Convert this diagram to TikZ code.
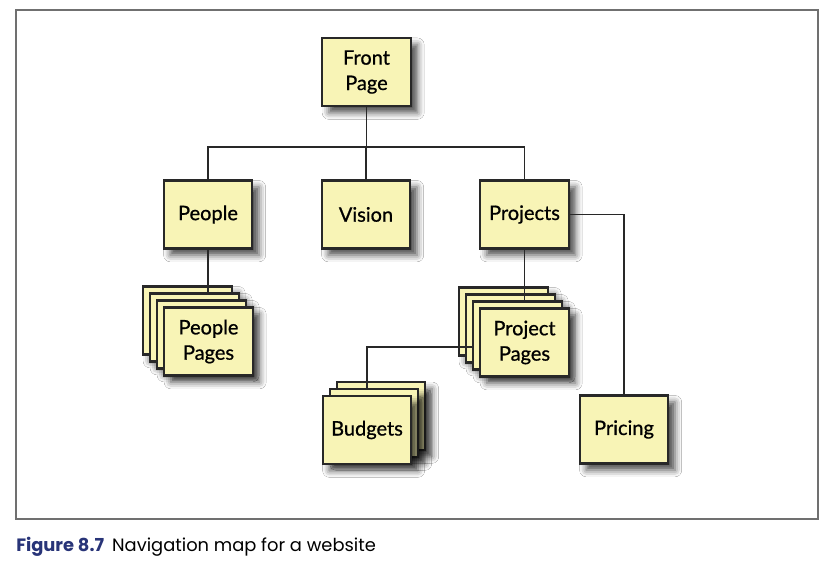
\documentclass[tikz,border=0pt]{standalone}
\usepackage{fontspec}
\setmainfont{Lato}
\newfontfamily\boxfont[FakeBold=0.8]{Lato}
\newfontfamily\capfont{Poppins}
\usetikzlibrary{shadows.blur}
\definecolor{boxfill}{RGB}{248,244,182}
\definecolor{boxline}{RGB}{40,40,40}
\definecolor{framegray}{RGB}{112,112,112}
\definecolor{capblue}{RGB}{40,52,120}
\tikzset{
  pagebox/.style={rectangle, draw=boxline, line width=1.6pt, fill=boxfill,
    minimum width=66.5pt, minimum height=51pt, inner sep=0pt,
    align=center, font=\boxfont\fontsize{15}{19}\selectfont,
    blur shadow={shadow xshift=5pt, shadow yshift=-5pt, shadow blur radius=5pt, shadow opacity=70}},
  layerbox/.style={pagebox},
  link/.style={draw=boxline, line width=1.2pt}
}
\begin{document}
\begin{tikzpicture}[x=0.75pt,y=-0.75pt]
\useasboundingbox (0,0) rectangle (832,573);
\fill[white] (0,0) rectangle (832,573);
\draw[framegray, line width=1.5pt] (16,10) rectangle (818,519);
% top level
\node[pagebox] (front) at (366.5,72) {Front\\Page};
\node[pagebox] (people) at (208,214.5) {People};
\node[pagebox] (vision) at (366,214.5) {Vision};
\node[pagebox] (projects) at (524.5,214.5) {Projects};
% people pages stack
\node[layerbox] (pp3) at (187.5,320.5) {};
\node[layerbox] (pp2) at (194.5,327.5) {};
\node[layerbox] (pp1) at (201.5,334.5) {};
\node[pagebox] (pp0) at (208.5,341.5) {People\\Pages};
% project pages stack
\node[layerbox] (jp3) at (503.5,321.5) {};
\node[layerbox] (jp2) at (510.5,328.5) {};
\node[layerbox] (jp1) at (517.5,335.5) {};
\node[pagebox] (jp0) at (524.5,342.5) {Project\\Pages};
% budgets stack
\node[layerbox] (bg2) at (381,416) {};
\node[layerbox] (bg1) at (374,423) {};
\node[pagebox] (bg0) at (367,430) {Budgets};
% pricing
\node[pagebox] (pricing) at (624,429.5) {Pricing};
% connectors
\coordinate (bus) at (366.5,147);
\draw[link] (front.south) -- (bus);
\draw[link] (vision.north) -- (vision.north |- bus);
\draw[link] (people.north) |- (bus) -| (projects.north);
\draw[link] (people.south) -- (people.south |- pp2.north);
\draw[link] (projects.south) -- (projects.south |- jp1.north);
\coordinate (bj) at (367,347);
\draw[link] (jp1.west |- bj) -- (bj) -- (bj |- bg1.north);
\draw[link] (projects.east) -| (pricing.north);
% caption
\node[anchor=base west, inner sep=0pt, font=\capfont\fontsize{13.4}{15}\selectfont] (cap) at (16,551)
  {\textcolor{capblue}{\bfseries Figure 8.7}\hspace{0.45em}Navigation map for a website};
\end{tikzpicture}
\end{document}
